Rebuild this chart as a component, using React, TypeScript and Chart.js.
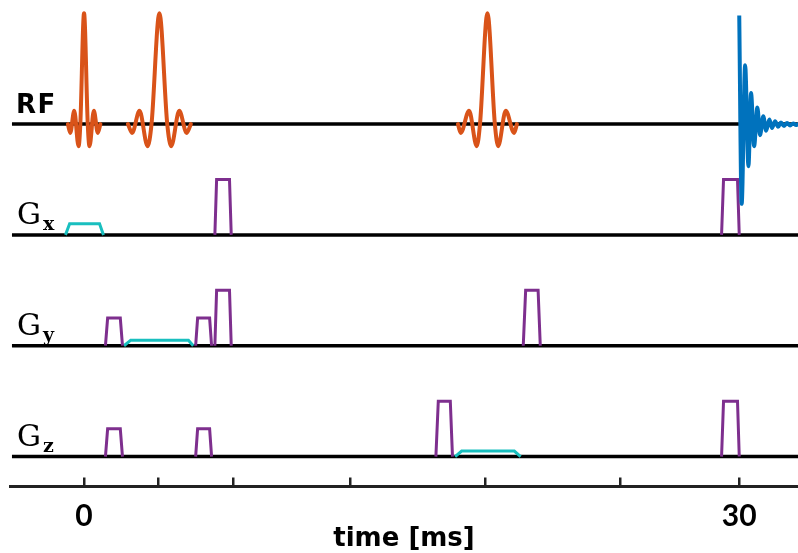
import { useEffect, useRef } from 'react';
import { Chart, registerables } from 'chart.js';

Chart.register(...registerables);

// Time axis (ms)
const TIME_MIN = -3.39;
const TIME_MAX = 32.69;
const BASELINE_START = -3.3;
const TIME_TICKS = [0, 3.42, 6.82, 12.18, 18.39, 24.54, 30];
const LABELED_TICKS = [0, 30];

// Rows of the sequence diagram (top to bottom)
const ROW_NAMES = ['RF', 'G', 'G', 'G'];
const ROW_SUBSCRIPTS = ['', 'x', 'y', 'z'];
const ROW_LEVELS = [3, 2, 1, 0];
const LEVEL_MIN = -0.27;
const LEVEL_MAX = 4.02;

// RF pulses: [time ms, amplitude]
const RF_PULSE_1 = [
  [-0.74, 0], [-0.63, -0.08], [-0.45, 0.12], [-0.25, -0.2], [-0.17, 0], [0, 1],
  [0.17, 0], [0.25, -0.2], [0.45, 0.12], [0.63, -0.08], [0.75, 0],
];
const RF_PULSE_2 = [
  [2.01, 0], [2.2, -0.08], [2.54, 0.12], [2.91, -0.2], [3.09, 0], [3.45, 1],
  [3.81, 0], [3.99, -0.2], [4.36, 0.12], [4.7, -0.08], [4.89, 0],
];
const RF_PULSE_3 = [
  [17.12, 0], [17.25, -0.08], [17.63, 0.12], [17.98, -0.2], [18.13, 0], [18.47, 1],
  [18.81, 0], [18.96, -0.2], [19.31, 0.12], [19.69, -0.08], [19.82, 0],
];
// Received signal (free induction decay)
const RF_SIGNAL = [
  [30.0, 0.98], [30.11, -0.72], [30.27, 0.53], [30.42, -0.38], [30.54, 0.28],
  [30.68, -0.2], [30.83, 0.15], [30.95, -0.1], [31.1, 0.07], [31.23, -0.06],
  [31.38, 0.04], [31.5, -0.035], [31.64, 0.025], [31.78, -0.025], [31.91, 0.015],
  [32.05, -0.018], [32.19, 0.01], [32.33, -0.012], [32.47, 0.006], [32.6, -0.008],
  [32.74, 0.004],
];

// Gradient lobes: [start, ramp-up end, ramp-down start, end, amplitude]
const GX_LOBES = [
  [5.99, 6.07, 6.66, 6.74, 0.5],
  [29.19, 29.28, 29.92, 30.0, 0.5],
];
const GX_PREP = [[-0.85, -0.66, 0.71, 0.89, 0.1]];
const GY_LOBES = [
  [0.98, 1.08, 1.66, 1.76, 0.25],
  [5.11, 5.2, 5.75, 5.84, 0.25],
  [5.99, 6.07, 6.66, 6.74, 0.5],
  [20.11, 20.22, 20.79, 20.89, 0.5],
];
const GY_PREP = [[1.83, 2.14, 4.78, 5.0, 0.05]];
const GZ_LOBES = [
  [0.98, 1.08, 1.66, 1.76, 0.25],
  [5.11, 5.2, 5.75, 5.84, 0.25],
  [16.11, 16.22, 16.77, 16.87, 0.5],
  [29.19, 29.28, 29.92, 30.0, 0.5],
];
const GZ_PREP = [[16.99, 17.29, 19.7, 19.99, 0.05]];

const COLOR_RF = '#D95319';
const COLOR_SIGNAL = '#0072BD';
const COLOR_LOBE = '#7E2F8E';
const COLOR_PREP = '#19BFBF';

const waveform = (pts: number[][], level: number) =>
  pts.map(([t, a]) => ({ x: t, y: level + a }));

const trapezoid = (lobe: number[], level: number) => {
  const [s, r, f, e, a] = lobe;
  return [
    { x: s, y: level },
    { x: r, y: level + a },
    { x: f, y: level + a },
    { x: e, y: level },
  ];
};

const rowLabels = {
  id: 'rowLabels',
  afterDraw(chart: any) {
    const { ctx } = chart;
    const yScale = chart.scales.y;
    ctx.save();
    ctx.fillStyle = '#000';
    ctx.textAlign = 'left';
    ctx.textBaseline = 'alphabetic';
    ROW_NAMES.forEach((name, i) => {
      const base = yScale.getPixelForValue(ROW_LEVELS[i]);
      if (!ROW_SUBSCRIPTS[i]) {
        ctx.font = 'bold 26px "DejaVu Sans"';
        ctx.letterSpacing = '1.5px';
        ctx.fillText(name, 16, base - 11);
        ctx.letterSpacing = '0px';
      } else {
        ctx.font = '30px "DejaVu Serif"';
        ctx.fillText(name, 17, base - 11);
        const w = ctx.measureText(name).width;
        ctx.font = 'bold 19px "DejaVu Serif"';
        ctx.fillText(ROW_SUBSCRIPTS[i], 17 + w + 2, base - 5);
      }
    });
    ctx.restore();
  },
};

export default function App() {
  const canvasRef = useRef<HTMLCanvasElement>(null);

  useEffect(() => {
    const lineBase = { pointRadius: 0, fill: false, tension: 0 };
    const datasets: any[] = [];

    ROW_LEVELS.forEach((level) => {
      datasets.push({
        ...lineBase,
        data: [{ x: BASELINE_START, y: level }, { x: TIME_MAX, y: level }],
        borderColor: '#000',
        borderWidth: 3.5,
        order: 10,
      });
    });

    const rfLevel = ROW_LEVELS[0];
    [RF_PULSE_1, RF_PULSE_2, RF_PULSE_3].forEach((p) => {
      datasets.push({
        ...lineBase,
        data: waveform(p, rfLevel),
        borderColor: COLOR_RF,
        borderWidth: 4,
        cubicInterpolationMode: 'monotone',
        borderCapStyle: 'round',
        borderJoinStyle: 'round',
        order: 1,
      });
    });
    datasets.push({
      ...lineBase,
      data: waveform(RF_SIGNAL, rfLevel),
      borderColor: COLOR_SIGNAL,
      borderWidth: 4,
      cubicInterpolationMode: 'monotone',
      borderJoinStyle: 'round',
      order: -1,
    });

    const gradRows: [number[][], number[][], number][] = [
      [GX_LOBES, GX_PREP, ROW_LEVELS[1]],
      [GY_LOBES, GY_PREP, ROW_LEVELS[2]],
      [GZ_LOBES, GZ_PREP, ROW_LEVELS[3]],
    ];
    gradRows.forEach(([lobes, prep, level]) => {
      lobes.forEach((l) =>
        datasets.push({ ...lineBase, data: trapezoid(l, level), borderColor: COLOR_LOBE, borderWidth: 3, order: 2 })
      );
      prep.forEach((l) =>
        datasets.push({ ...lineBase, data: trapezoid(l, level), borderColor: COLOR_PREP, borderWidth: 3, order: 2 })
      );
    });

    const chart = new Chart(canvasRef.current!, {
      type: 'line',
      data: { datasets },
      options: {
        animation: false,
        responsive: true,
        maintainAspectRatio: false,
        layout: { padding: { left: 10, right: 0, top: 11, bottom: 0 } },
        plugins: { legend: { display: false }, tooltip: { enabled: false } },
        scales: {
          x: {
            type: 'linear',
            min: TIME_MIN,
            max: TIME_MAX,
            afterBuildTicks: (scale: any) => {
              scale.ticks = TIME_TICKS.map((v) => ({ value: v }));
            },
            ticks: {
              autoSkip: false,
              maxRotation: 0,
              padding: 23.5,
              color: '#000',
              font: { family: 'Lato', size: 30, weight: 'bold', lineHeight: 1 },
              callback: (v: any) => (LABELED_TICKS.includes(Number(v)) ? String(v) : ''),
            },
            grid: {
              drawOnChartArea: false,
              drawTicks: true,
              tickLength: -9,
              color: '#222',
              lineWidth: 2.5,
            },
            border: { display: true, color: '#222', width: 3 },
            title: {
              display: true,
              text: 'time [ms]',
              color: '#000',
              font: { family: 'DejaVu Sans', size: 26, weight: 'bold', lineHeight: 1 },
              padding: { top: -28.5, bottom: 1 },
            },
          },
          y: {
            type: 'linear',
            display: false,
            min: LEVEL_MIN,
            max: LEVEL_MAX,
          },
        },
      },
      plugins: [rowLabels],
    } as any);

    return () => chart.destroy();
  }, []);

  return (
    <div style={{ position: 'fixed', left: 0, top: 0, width: 798, height: 553, background: '#fff' }}>
      <canvas ref={canvasRef} />
    </div>
  );
}
